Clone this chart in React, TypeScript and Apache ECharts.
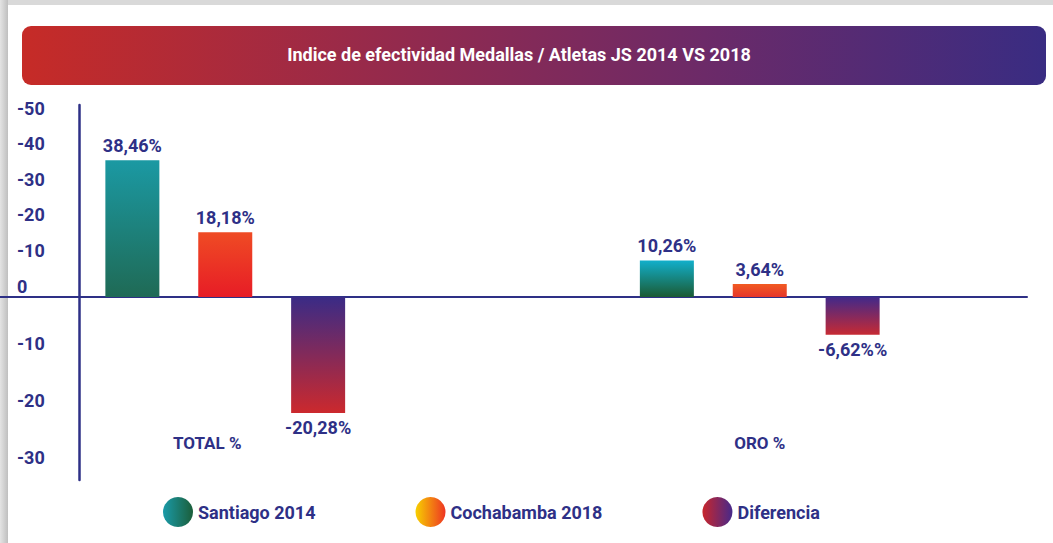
import React, { useEffect, useRef } from 'react';
import * as echarts from 'echarts';

// ---------- data ----------
const titleText = 'Indice de efectividad Medallas / Atletas JS 2014 VS 2018';
const categories = ['TOTAL %', 'ORO %'];
const seriesNames = ['Santiago 2014', 'Cochabamba 2018', 'Diferencia'];
const santiago2014 = [38.46, 10.26];
const cochabamba2018 = [18.18, 3.64];
const diferencia = [-20.28, -6.62];
const santiagoLabels = ['38,46%', '10,26%'];
const cochabambaLabels = ['18,18%', '3,64%'];
const diferenciaLabels = ['-20,28%', '-6,62%%'];
const upperTickValues = [0, 10, 20, 30, 40, 50];
const upperTickLabels = ['0', '-10', '-20', '-30', '-40', '-50'];
const lowerTickValues = [-10, -20, -30];
const lowerTickLabels = ['-10', '-20', '-30'];

// ---------- styles ----------
const NAVY = '#2e3086';
const FONT = 'Roboto, "DejaVu Sans Condensed", sans-serif';

const vgrad = (top: string, bottom: string) =>
  new echarts.graphic.LinearGradient(0, 0, 0, 1, [
    { offset: 0, color: top },
    { offset: 1, color: bottom },
  ]);
const hgrad = (stops: string[]) =>
  new echarts.graphic.LinearGradient(
    0,
    0,
    1,
    0,
    stops.map((c, i) => ({ offset: i / (stops.length - 1), color: c }))
  );

const seriesDefs = [
  {
    name: seriesNames[0],
    values: santiago2014,
    labels: santiagoLabels,
    barColors: [
      ['#1b99a3', '#1f6a55'],
      ['#12afcb', '#1b5a33'],
    ],
    legendColors: ['#1a9aa8', '#1b5e3a'],
  },
  {
    name: seriesNames[1],
    values: cochabamba2018,
    labels: cochabambaLabels,
    barColors: [
      ['#ef4b24', '#e71c26'],
      ['#f15a22', '#e5352b'],
    ],
    legendColors: ['#f7d000', '#ee3523'],
  },
  {
    name: seriesNames[2],
    values: diferencia,
    labels: diferenciaLabels,
    barColors: [
      ['#3a2b86', '#cc292d'],
      ['#41298a', '#c72a33'],
    ],
    legendColors: ['#c8262c', '#47298a'],
  },
];

function buildOption(): any {
  const series: any[] = [];
  [0, 1].forEach((g) => {
    seriesDefs.forEach((def) => {
      series.push({
        type: 'bar',
        name: def.name,
        xAxisIndex: g,
        yAxisIndex: g,
        barWidth: 54,
        barGap: '72%',
        itemStyle: { color: hgrad(def.legendColors) },
        label: {
          show: true,
          position: g === 0 ? 'top' : 'bottom',
          distance: 6,
          formatter: (p: any) => def.labels[p.dataIndex],
          color: NAVY,
          fontFamily: FONT,
          fontWeight: 'bold',
          fontSize: 18,
        },
        data: def.values.map((v, i) => {
          const keep = g === 0 ? v >= 0 : v < 0;
          return keep
            ? { value: v, itemStyle: { color: vgrad(def.barColors[i][0], def.barColors[i][1]) } }
            : '-';
        }),
      });
    });
  });

  const yLabelBase = {
    align: 'left',
    verticalAlign: 'bottom',
    lineHeight: 22,
    margin: 62,
    color: NAVY,
    fontFamily: FONT,
    fontWeight: 'bold',
    fontSize: 18,
  };

  const gridBase = { left: -42, right: 26, outerBoundsMode: 'none', containLabel: false };

  return {
    animation: false,
    backgroundColor: '#ffffff',
    title: {
      text: titleText,
      left: 514,
      textAlign: 'center',
      top: 40,
      textStyle: {
        color: '#ffffff',
        fontFamily: FONT,
        fontWeight: 'bold',
        fontSize: 18,
      },
    },
    legend: {
      data: seriesNames,
      icon: 'circle',
      itemWidth: 30,
      itemHeight: 30,
      itemGap: 100,
      left: 158,
      top: 492,
      textStyle: {
        color: NAVY,
        fontFamily: FONT,
        fontWeight: 'bold',
        fontSize: 18,
      },
    },
    graphic: [
      {
        type: 'rect',
        z: -10,
        shape: { x: 0, y: 0, width: 1053, height: 5 },
        style: { fill: '#d9d9d9' },
      },
      {
        type: 'rect',
        z: -10,
        shape: { x: 0, y: 0, width: 8, height: 543 },
        style: { fill: hgrad(['#e4e4e4', '#bfbfbf']) },
      },
      {
        type: 'rect',
        z: -5,
        shape: { x: 22, y: 26, width: 1024, height: 59, r: 9 },
        style: { fill: hgrad(['#c62b27', '#982a4a', '#6c2a68', '#392c82']) },
      },
    ],
    grid: [
      { ...gridBase, top: 105, height: 192 },
      { ...gridBase, top: 297, height: 183 },
    ],
    xAxis: [
      {
        type: 'category',
        gridIndex: 0,
        data: categories,
        axisLine: { show: true, lineStyle: { color: NAVY, width: 2 } },
        axisTick: { show: false },
        axisLabel: { show: false },
        splitLine: { show: false },
      },
      {
        type: 'category',
        gridIndex: 1,
        position: 'top',
        data: categories.map((c, i) =>
          i === 0 ? { value: c, textStyle: { padding: [0, 36, 0, 0] } } : c
        ),
        axisLine: { show: false },
        axisTick: { show: false },
        splitLine: { show: false },
        axisLabel: {
          inside: true,
          margin: 137,
          color: NAVY,
          fontFamily: FONT,
          fontWeight: 'bold',
          fontSize: 17,
        },
      },
    ],
    yAxis: [
      {
        type: 'value',
        gridIndex: 0,
        min: 0,
        max: 54,
        position: 'left',
        offset: -121,
        axisLine: { show: true, lineStyle: { color: NAVY, width: 2.5 } },
        axisTick: { show: false },
        splitLine: { show: false },
        axisLabel: {
          ...yLabelBase,
          customValues: upperTickValues,
          formatter: (v: number) => {
            const i = upperTickValues.indexOf(Math.round(v));
            return i >= 0 ? upperTickLabels[i] : '';
          },
        },
      },
      {
        type: 'value',
        gridIndex: 1,
        min: -32,
        max: 0,
        position: 'left',
        offset: -121,
        axisLine: { show: true, lineStyle: { color: NAVY, width: 2.5 } },
        axisTick: { show: false },
        splitLine: { show: false },
        axisLabel: {
          ...yLabelBase,
          customValues: lowerTickValues,
          formatter: (v: number) => {
            const i = lowerTickValues.indexOf(Math.round(v));
            return i >= 0 ? lowerTickLabels[i] : '';
          },
        },
      },
    ],
    series,
  };
}

export default function App() {
  const ref = useRef<HTMLDivElement>(null);
  useEffect(() => {
    if (!ref.current) return;
    const chart = echarts.init(ref.current, undefined, { renderer: 'svg' });
    chart.setOption(buildOption());
    return () => chart.dispose();
  }, []);
  return (
    <div
      ref={ref}
      style={{ position: 'fixed', left: 0, top: 0, width: 1053, height: 543, background: '#fff' }}
    />
  );
}
